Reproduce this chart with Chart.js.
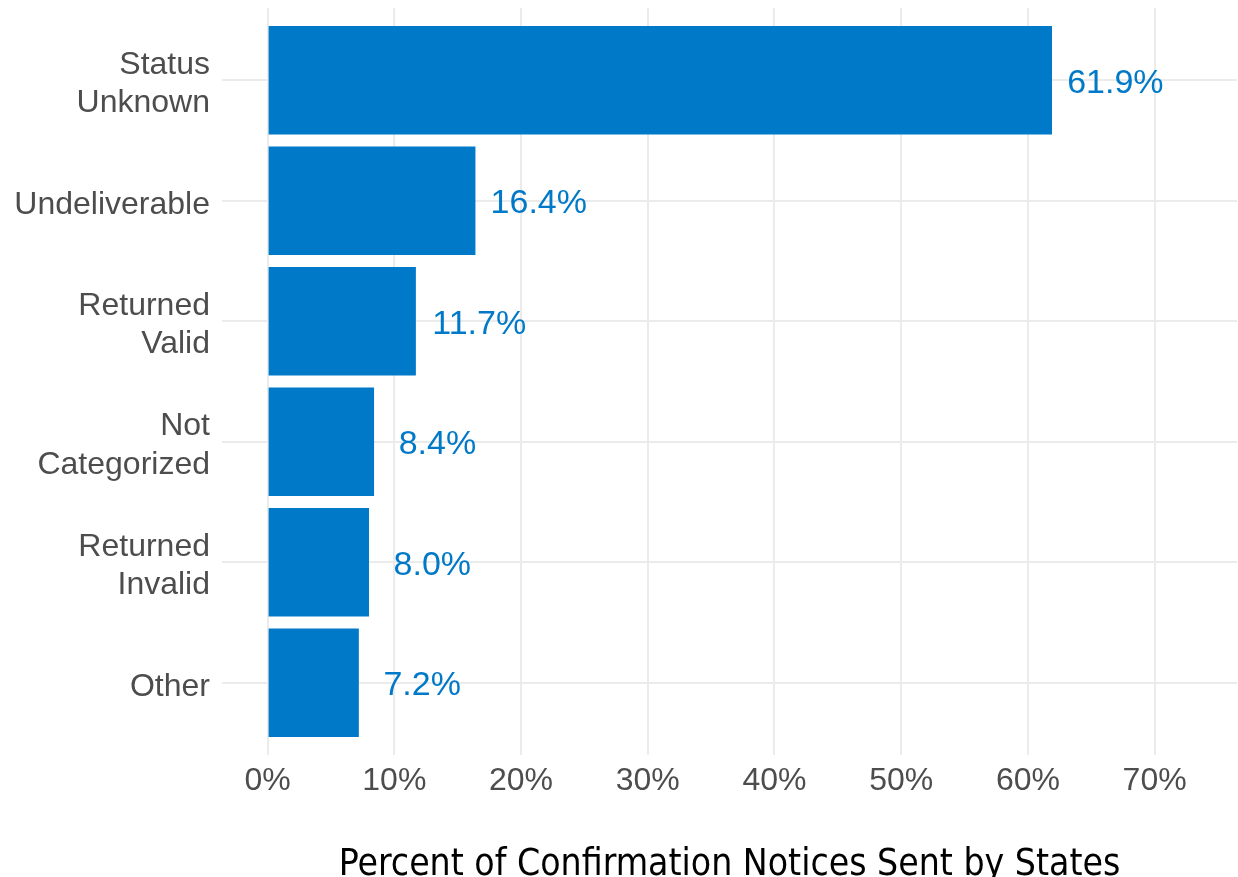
<!DOCTYPE html>
<html>
<head>
<meta charset="utf-8">
<script src="https://cdn.jsdelivr.net/npm/chart.js@4.4.0/dist/chart.umd.min.js"></script>
<style>
  html, body { margin: 0; padding: 0; background: #fff; }
  #wrap { width: 1238px; height: 877px; position: relative; }
</style>
</head>
<body>
<div id="wrap"><canvas id="chart"></canvas></div>
<script>
// ------------------------
// Data
// ------------------------
const categories = [['Status', 'Unknown'], 'Undeliverable', ['Returned', 'Valid'], ['Not', 'Categorized'], ['Returned', 'Invalid'], 'Other'];
const percentValues = [61.9, 16.4, 11.7, 8.4, 8.0, 7.2];
const xTickValues = [0, 10, 20, 30, 40, 50, 60, 70];
const xAxisTitle = 'Percent of Confirmation Notices Sent by States';

const barColor = '#0079C8';
const gridColor = '#EBEBEB';
const labelShift = 5; // labels sit a bit right of the bar end

// draws the value labels next to each bar
const valueLabels = {
    id: 'valueLabels',
    afterDatasetsDraw(chart) {
        const ctx = chart.ctx;
        const xScale = chart.scales.x;
        const meta = chart.getDatasetMeta(0);
        ctx.save();
        ctx.font = '34px "Liberation Sans", Arial, sans-serif';
        ctx.fillStyle = barColor;
        ctx.textAlign = 'center';
        ctx.textBaseline = 'middle';
        meta.data.forEach((bar, i) => {
            const v = percentValues[i];
            ctx.fillText(v.toFixed(1) + '%', xScale.getPixelForValue(v + labelShift), bar.y + 3);
        });
        ctx.restore();
    }
};

new Chart(document.getElementById('chart'), {
    type: 'bar',
    data: {
        labels: categories,
        datasets: [{
            data: percentValues,
            backgroundColor: barColor,
            categoryPercentage: 1,
            barPercentage: 0.9
        }]
    },
    plugins: [valueLabels],
    options: {
        indexAxis: 'y',
        responsive: true,
        maintainAspectRatio: false,
        animation: false,
        layout: { padding: { top: 8, right: 1, left: 0, bottom: 0 } },
        plugins: { legend: { display: false }, tooltip: { enabled: false } },
        scales: {
            x: {
                type: 'linear',
                min: -3.6,
                max: 76.5,
                afterBuildTicks: axis => { axis.ticks = xTickValues.map(v => ({ value: v })); },
                afterFit: axis => {
                    axis.height = 122;
                    axis.paddingLeft = 0;
                    axis.paddingRight = 0;
                },
                border: { display: false },
                grid: { color: gridColor, lineWidth: 2, drawTicks: false },
                ticks: {
                    padding: 7,
                    color: '#4D4D4D',
                    font: { family: '"Liberation Sans", Arial, sans-serif', size: 32 },
                    callback: v => v + '%'
                },
                title: {
                    display: true,
                    text: xAxisTitle,
                    color: '#000',
                    font: { family: '"Liberation Sans Narrow", "DejaVu Sans Condensed", sans-serif', size: 37, lineHeight: '24px' },
                    padding: { top: 0, bottom: 0 }
                }
            },
            y: {
                offset: true,
                afterBuildTicks: axis => {
                    // ggplot-style discrete expansion of 0.6 band on each side
                    axis._startValue = -0.6;
                    axis._valueRange = categories.length + 0.2;
                },
                afterFit: axis => {
                    axis.width = 222;
                    axis.paddingTop = 0;
                    axis.paddingBottom = 0;
                },
                border: { display: false },
                grid: { color: gridColor, lineWidth: 2, drawTicks: false, offset: false },
                ticks: {
                    padding: 12,
                    labelOffset: 4,
                    color: '#4D4D4D',
                    font: { family: '"Liberation Sans", Arial, sans-serif', size: 32, lineHeight: 1.2 }
                }
            }
        }
    }
});
</script>
</body>
</html>
